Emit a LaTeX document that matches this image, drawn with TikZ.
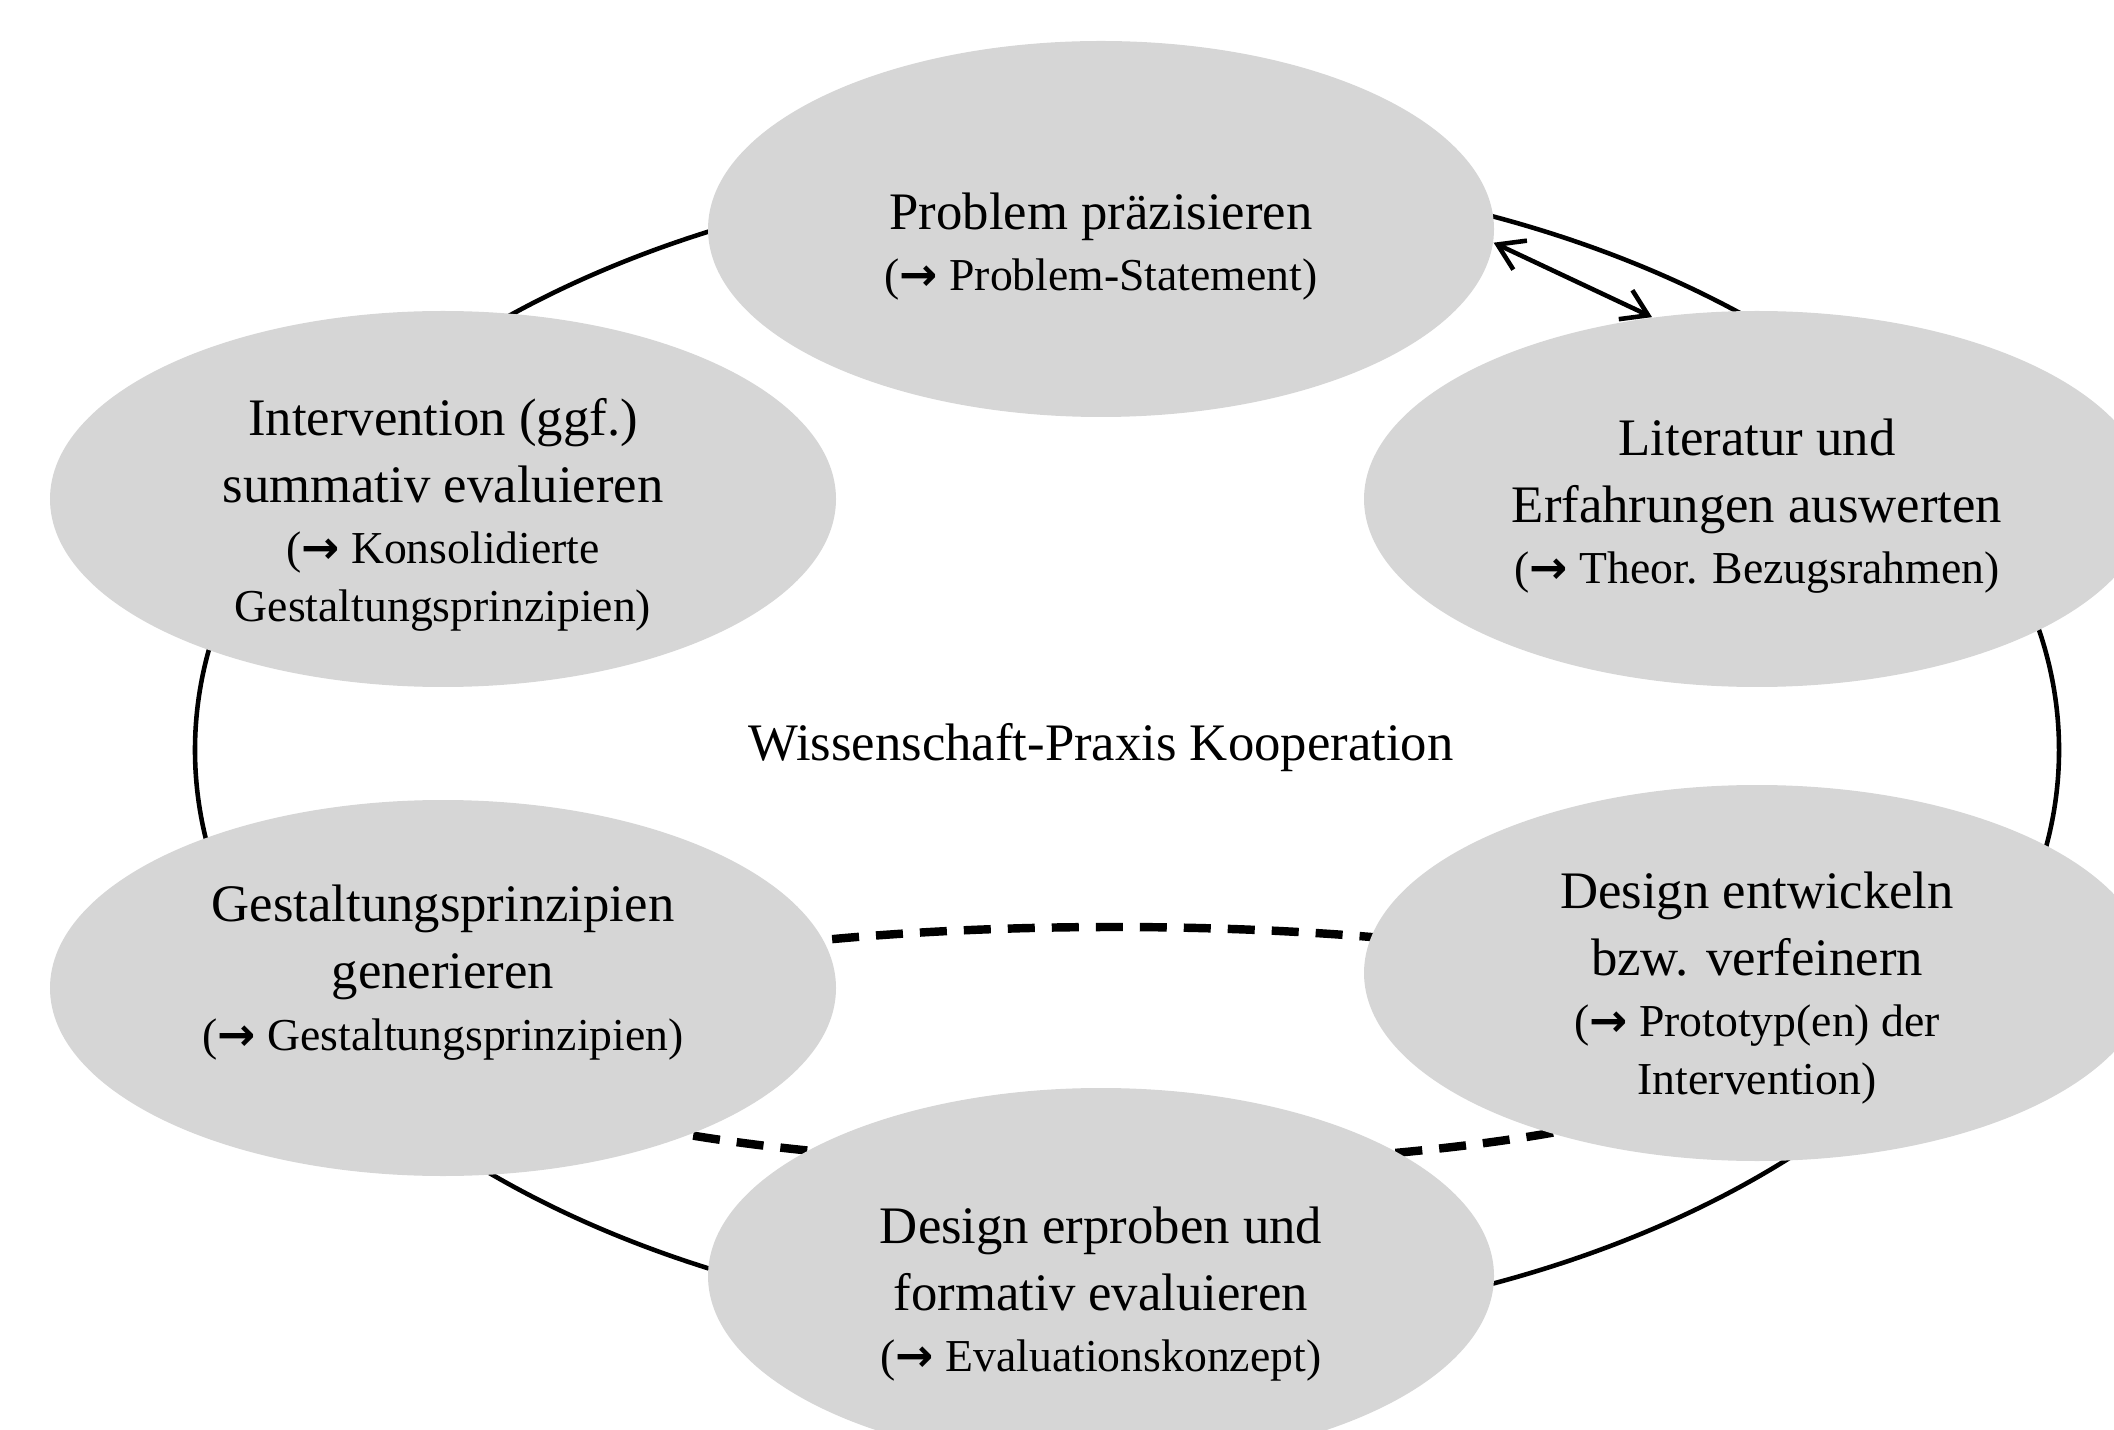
\documentclass[tikz,border=0pt]{standalone}
\usepackage{fontspec}
\setmainfont{Liberation Serif}
\newfontfamily\arrowfont[Scale=1.0]{DejaVu Sans}
\usetikzlibrary{shapes,arrows.meta}

\newcommand{\outcome}[1]{{\fontsize{13}{16.5}\selectfont #1}}
\newcommand{\yields}{{\arrowfont\bfseries →}}

\begin{document}
\begin{tikzpicture}[
    phase/.style={ellipse, fill=black!16, minimum width=7.86cm, minimum height=3.76cm, inner sep=0pt},
    words/.style={align=center, font=\fontsize{15}{19.1}\selectfont}
]
    \useasboundingbox (0,0) rectangle (21.14,-14.30);
    \clip (0,0) rectangle (21.14,-14.30);

    % Cycle lines
    \draw[line width=1.3pt] (11.27,-7.50) ellipse (9.32cm and 5.80cm);
    \draw[line width=2.4pt, dash pattern=on 0.27cm off 0.17cm] (11.14,-10.46) ellipse (6.40cm and 1.19cm);

    % Phases
    \node[phase, label={[words, name=problem-t, yshift=-1.75mm]center:{Problem präzisieren\\[-1.7pt]
        \outcome{(\yields\ Problem-Statement)}}}] (problem) at (11.01,-2.29) {};
    \node[phase, label={[words, name=literatur-t, yshift=-0.75mm]center:{Literatur und\\ Erfahrungen auswerten\\[-1.7pt]
        \outcome{(\yields\ Theor. Bezugsrahmen)}}}] (literatur) at (17.57,-4.99) {};
    \node[phase, label={[words, name=design-t, yshift=-1.5mm]center:{Design entwickeln\\ bzw. verfeinern\\[-1.7pt]
        \outcome{(\yields\ Prototyp(en) der}\\[-2.6pt] \outcome{Intervention)}}}] (design) at (17.57,-9.73) {};
    \node[phase, label={[words, name=erproben-t, yshift=-1.8mm]center:{Design erproben und\\ formativ evaluieren\\[-1.7pt]
        \outcome{(\yields\ Evaluationskonzept)}}}] (erproben) at (11.01,-12.76) {};
    \node[phase, label={[words, name=prinzipien-t, yshift=1.55mm]center:{Gestaltungsprinzipien\\ generieren\\[-1.7pt]
        \outcome{(\yields\ Gestaltungsprinzipien)}}}] (prinzipien) at (4.43,-9.88) {};
    \node[phase, label={[words, name=intervention-t, yshift=-1.6mm]center:{Intervention (ggf.)\\ summativ evaluieren\\[-1.7pt]
        \outcome{(\yields\ Konsolidierte}\\[-2.6pt] \outcome{Gestaltungsprinzipien)}}}] (intervention) at (4.43,-4.99) {};

    \node[words] (kooperation) at (11.01,-7.48) {Wissenschaft-Praxis Kooperation};

    % Exchange
    \draw[<->, line width=1.3pt, >={Straight Barb[length=2.5mm, width=3.2mm]}] (problem.-2) -- (literatur.120);
\end{tikzpicture}
\end{document}
